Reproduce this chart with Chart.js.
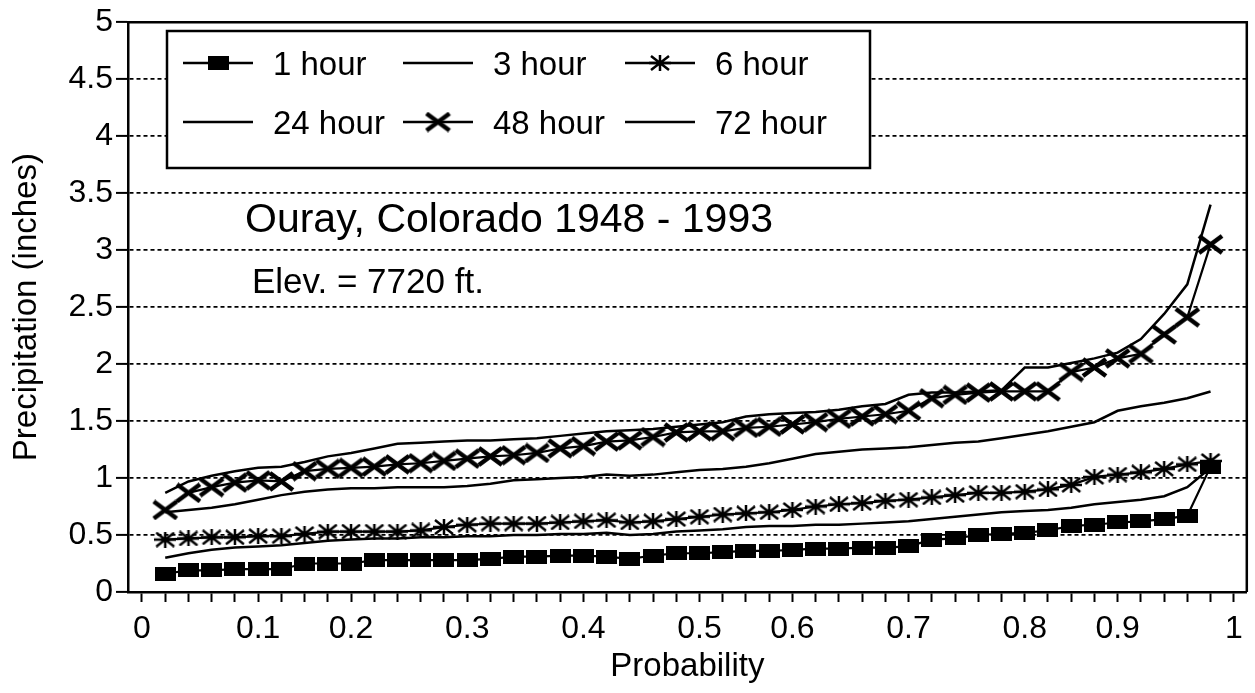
<!DOCTYPE html>
<html>
<head>
<meta charset="utf-8">
<script src="https://cdn.jsdelivr.net/npm/chart.js@4.4.1/dist/chart.umd.min.js"></script>
<style>
  html, body { margin: 0; padding: 0; background: #fff; }
  #wrap { width: 1255px; height: 693px; position: relative; }
</style>
</head>
<body>
<div id="wrap"><canvas id="chart"></canvas></div>
<script>
// plotting positions (rank / 47) for the 46 years of record
const probability = [0.0213, 0.0426, 0.0638, 0.0851, 0.1064, 0.1277, 0.1489, 0.1702, 0.1915, 0.2128,
  0.2340, 0.2553, 0.2766, 0.2979, 0.3191, 0.3404, 0.3617, 0.3830, 0.4043, 0.4255,
  0.4468, 0.4681, 0.4894, 0.5106, 0.5319, 0.5532, 0.5745, 0.5957, 0.6170, 0.6383,
  0.6596, 0.6809, 0.7021, 0.7234, 0.7447, 0.7660, 0.7872, 0.8085, 0.8298, 0.8511,
  0.8723, 0.8936, 0.9149, 0.9362, 0.9574, 0.9787];

const oneHour = [0.16, 0.19, 0.19, 0.20, 0.20, 0.20, 0.25, 0.25, 0.25, 0.28,
  0.28, 0.28, 0.28, 0.28, 0.29, 0.31, 0.31, 0.32, 0.32, 0.31,
  0.29, 0.32, 0.34, 0.34, 0.35, 0.36, 0.36, 0.37, 0.38, 0.38,
  0.39, 0.39, 0.40, 0.46, 0.47, 0.50, 0.51, 0.52, 0.54, 0.58,
  0.59, 0.61, 0.62, 0.64, 0.67, 1.10];
const threeHour = [0.30, 0.34, 0.37, 0.39, 0.40, 0.41, 0.43, 0.45, 0.46, 0.47,
  0.47, 0.48, 0.48, 0.49, 0.49, 0.50, 0.50, 0.51, 0.51, 0.52,
  0.50, 0.51, 0.53, 0.54, 0.55, 0.57, 0.58, 0.58, 0.59, 0.59,
  0.60, 0.61, 0.62, 0.64, 0.66, 0.68, 0.70, 0.71, 0.72, 0.74,
  0.77, 0.79, 0.81, 0.84, 0.92, 1.09];
const sixHour = [0.46, 0.47, 0.48, 0.48, 0.49, 0.49, 0.51, 0.53, 0.53, 0.53,
  0.53, 0.54, 0.57, 0.59, 0.60, 0.60, 0.60, 0.61, 0.62, 0.63,
  0.61, 0.62, 0.64, 0.66, 0.68, 0.69, 0.70, 0.72, 0.75, 0.77,
  0.78, 0.80, 0.81, 0.83, 0.85, 0.87, 0.87, 0.88, 0.90, 0.94,
  1.01, 1.03, 1.05, 1.08, 1.12, 1.15];
const twentyFourHour = [0.70, 0.72, 0.74, 0.77, 0.81, 0.85, 0.88, 0.90, 0.91, 0.91,
  0.92, 0.92, 0.92, 0.93, 0.95, 0.98, 0.99, 1.00, 1.01, 1.03,
  1.02, 1.03, 1.05, 1.07, 1.08, 1.10, 1.13, 1.17, 1.21, 1.23,
  1.25, 1.26, 1.27, 1.29, 1.31, 1.32, 1.35, 1.38, 1.41, 1.45,
  1.49, 1.59, 1.63, 1.66, 1.70, 1.76];
const fortyEightHour = [0.72, 0.87, 0.92, 0.96, 0.98, 0.97, 1.06, 1.08, 1.09, 1.10,
  1.12, 1.13, 1.15, 1.17, 1.19, 1.20, 1.22, 1.26, 1.28, 1.32,
  1.33, 1.36, 1.40, 1.41, 1.41, 1.44, 1.45, 1.47, 1.49, 1.52,
  1.54, 1.56, 1.59, 1.70, 1.73, 1.75, 1.76, 1.76, 1.76, 1.93,
  1.97, 2.05, 2.09, 2.26, 2.41, 3.05];
const seventyTwoHour = [0.87, 0.97, 1.02, 1.06, 1.09, 1.10, 1.14, 1.19, 1.22, 1.26,
  1.30, 1.31, 1.32, 1.33, 1.33, 1.34, 1.35, 1.37, 1.39, 1.41,
  1.42, 1.43, 1.45, 1.47, 1.49, 1.54, 1.56, 1.57, 1.58, 1.60,
  1.63, 1.65, 1.73, 1.75, 1.75, 1.76, 1.77, 1.97, 1.97, 2.01,
  2.05, 2.10, 2.22, 2.44, 2.70, 3.40];

const seriesLabels = ['1 hour', '3 hour', '6 hour', '24 hour', '48 hour', '72 hour'];
const xTickValues = [0, 0.1, 0.2, 0.3, 0.4, 0.5, 0.6, 0.7, 0.8, 0.9, 1];
const xTickLabels = ['0', '0.1', '0.2', '0.3', '0.4', '0.5', '0.6', '0.7', '0.8', '0.9', '1'];
const yTickLabels = ['0', '0.5', '1', '1.5', '2', '2.5', '3', '3.5', '4', '4.5', '5'];
const stationTitle = 'Ouray, Colorado 1948 - 1993';
const elevationNote = 'Elev. = 7720 ft.';

const FONT = '"Liberation Sans", Arial, Helvetica, sans-serif';

// tick marks sit on every plotting position, labels go on the nearest mark
const xTickMarks = [0, ...probability, 1];
const xLabelAt = {};
xTickValues.forEach((v, j) => {
  let best = 0;
  xTickMarks.forEach((t, k) => {
    if (Math.abs(t - v) <= Math.abs(xTickMarks[best] - v) + 1e-9) best = k;
  });
  xLabelAt[best] = xTickLabels[j];
});

function makeMarker(w, h, draw) {
  const c = document.createElement('canvas');
  c.width = w;
  c.height = h;
  const g = c.getContext('2d');
  g.strokeStyle = '#000';
  g.fillStyle = '#000';
  draw(g, w, h);
  return c;
}

const squareMark = makeMarker(21, 14, (g, w, h) => g.fillRect(0, 0, w, h));
const starMark = makeMarker(22, 16, (g, w, h) => {
  g.lineWidth = 2.5;
  g.beginPath();
  g.moveTo(w / 2, 0); g.lineTo(w / 2, h);
  g.moveTo(2, 1); g.lineTo(w - 2, h - 1);
  g.moveTo(w - 2, 1); g.lineTo(2, h - 1);
  g.moveTo(0, h / 2); g.lineTo(w, h / 2);
  g.stroke();
});
const crossMark = makeMarker(27, 21, (g, w, h) => {
  g.lineWidth = 4.5;
  g.beginPath();
  g.moveTo(2, 2); g.lineTo(w - 2, h - 2);
  g.moveTo(w - 2, 2); g.lineTo(2, h - 2);
  g.stroke();
});

function toPoints(values) {
  return values.map((v, i) => ({ x: probability[i], y: v }));
}

function series(label, values, marker) {
  return {
    label: label,
    data: toPoints(values),
    borderColor: '#000',
    backgroundColor: '#000',
    borderWidth: marker ? 2.2 : 2.5,
    tension: 0,
    pointStyle: marker || 'circle',
    pointRadius: marker ? 6 : 0,
    pointHoverRadius: marker ? 6 : 0
  };
}

const frameAndNotes = {
  id: 'frameAndNotes',
  afterDatasetsDraw(chart) {
    const { ctx, chartArea } = chart;
    ctx.save();
    ctx.strokeStyle = '#000';
    ctx.lineWidth = 2.5;
    ctx.beginPath();
    ctx.moveTo(chartArea.left, chartArea.top);
    ctx.lineTo(chartArea.right, chartArea.top);
    ctx.lineTo(chartArea.right, chartArea.bottom);
    ctx.stroke();

    ctx.fillStyle = '#000';
    ctx.textBaseline = 'alphabetic';
    ctx.font = '41px ' + FONT;
    ctx.fillText(stationTitle, 245, 232);
    ctx.font = '35px ' + FONT;
    ctx.fillText(elevationNote, 252, 293);
    ctx.restore();
  }
};

const boxLegend = {
  id: 'boxLegend',
  afterDraw(chart) {
    const ctx = chart.ctx;
    const cols = [183, 403, 625];
    const rows = [63, 122];
    ctx.save();
    ctx.fillStyle = '#fff';
    ctx.fillRect(167, 31, 703, 137);
    ctx.strokeStyle = '#000';
    ctx.lineWidth = 2.5;
    ctx.strokeRect(167, 31, 703, 137);

    ctx.font = '33px ' + FONT;
    ctx.textBaseline = 'middle';
    ctx.fillStyle = '#000';
    chart.data.datasets.forEach((ds, i) => {
      const x = cols[i % 3];
      const y = rows[Math.floor(i / 3)];
      ctx.lineWidth = 2.5;
      ctx.beginPath();
      ctx.moveTo(x, y);
      ctx.lineTo(x + 70, y);
      ctx.stroke();
      if (ds.pointStyle instanceof HTMLCanvasElement) {
        const m = ds.pointStyle;
        ctx.drawImage(m, x + 35 - m.width / 2, y - m.height / 2);
      }
      ctx.fillText(ds.label, x + 90, y + 3);
    });
    ctx.restore();
  }
};

new Chart(document.getElementById('chart'), {
  type: 'line',
  data: {
    datasets: [
      series(seriesLabels[0], oneHour, squareMark),
      series(seriesLabels[1], threeHour, null),
      series(seriesLabels[2], sixHour, starMark),
      series(seriesLabels[3], twentyFourHour, null),
      series(seriesLabels[4], fortyEightHour, crossMark),
      series(seriesLabels[5], seventyTwoHour, null)
    ]
  },
  options: {
    responsive: true,
    maintainAspectRatio: false,
    animation: false,
    events: [],
    layout: { padding: { top: 19, right: 5, left: 0, bottom: 0 } },
    plugins: {
      legend: { display: false },
      tooltip: { enabled: false }
    },
    scales: {
      x: {
        type: 'linear',
        min: -0.0128,
        max: 1.0119,
        afterBuildTicks: (scale) => {
          scale.ticks = xTickMarks.map(v => ({ value: v }));
        },
        afterFit: (scale) => { scale.height = 101; },
        grid: {
          drawOnChartArea: false,
          drawTicks: true,
          tickLength: 10,
          tickWidth: 2,
          tickColor: '#000'
        },
        border: { color: '#000', width: 2.5 },
        ticks: {
          autoSkip: false,
          maxRotation: 0,
          padding: 8,
          color: '#000',
          font: { family: FONT, size: 32 },
          callback: (value, index) => xLabelAt[index] || ''
        },
        title: {
          display: true,
          text: 'Probability',
          color: '#000',
          font: { family: FONT, size: 33 },
          padding: { top: 0, bottom: 6 }
        }
      },
      y: {
        min: 0,
        max: 5,
        afterFit: (scale) => { scale.width = 128; },
        grid: {
          color: '#000',
          lineWidth: 1.8,
          drawTicks: true,
          tickLength: 12,
          tickWidth: 2,
          tickColor: '#000',
          tickBorderDash: []
        },
        border: { color: '#000', width: 2.5, dash: [4, 3] },
        ticks: {
          stepSize: 0.5,
          padding: 3,
          color: '#000',
          font: { family: FONT, size: 32 },
          callback: (value, index) => yTickLabels[index]
        },
        title: {
          display: true,
          text: 'Precipitation (inches)',
          color: '#000',
          font: { family: FONT, size: 33 },
          padding: { top: 7, bottom: 0 }
        }
      }
    }
  },
  plugins: [frameAndNotes, boxLegend]
});
</script>
</body>
</html>
